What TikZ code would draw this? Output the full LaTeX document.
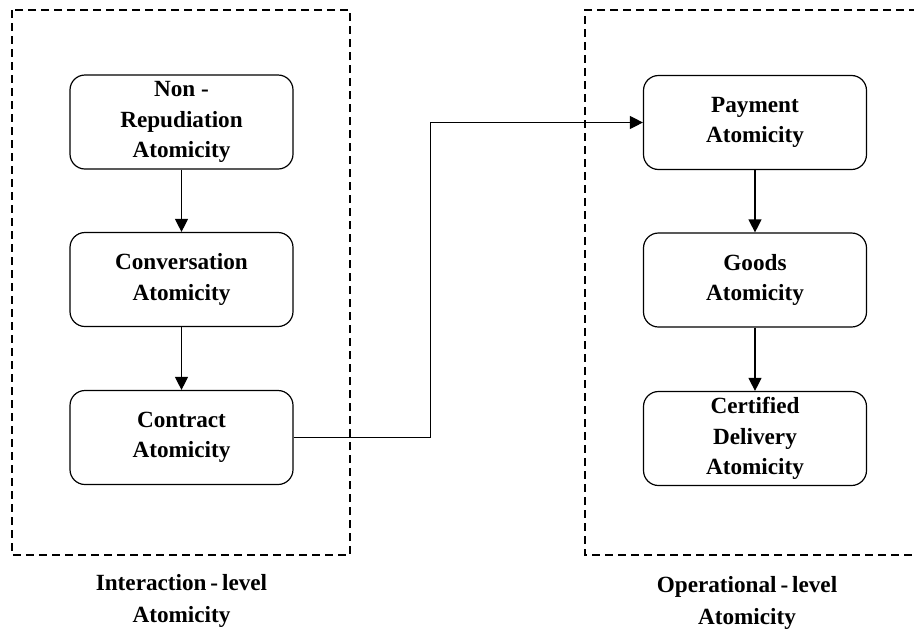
\documentclass[tikz,border=0pt]{standalone}
\usepackage{fontspec}
\setmainfont{Liberation Serif}
\usetikzlibrary{arrows.meta}

\tikzset{
  atom/.style={draw, rounded corners=7.5pt, line width=0.6pt,
    minimum width=111.5pt, minimum height=47pt, inner sep=0pt,
    align=center, font=\fontsize{11.6}{15.2}\selectfont\bfseries},
  level/.style={line width=1.1pt, dash pattern=on 4pt off 2.5pt},
  flow/.style={-{Triangle[length=6.5pt,width=6.5pt]}, line width=0.6pt},
  levelname/.style={align=center, font=\fontsize{11.6}{16}\selectfont\bfseries},
}

\begin{document}
\begin{tikzpicture}[x=0.5pt,y=-0.5pt]
\useasboundingbox (0,0) rectangle (914,632);

\draw[level] (12,10) rectangle (350,555);
\draw[level] (930,10) -- (585,10) -- (585,555) -- (930,555);

\node[atom] (nonrep)    at (181.5,122)   {Non -\\Repudiation\\Atomicity};
\node[atom] (conv)      at (181.5,279.5) {Conversation\\Atomicity};
\node[atom] (contract)  at (181.5,437.5) {Contract\\Atomicity};
\node[atom] (payment)   at (755,122.5)   {Payment\\Atomicity};
\node[atom] (goods)     at (755,280)     {Goods\\Atomicity};
\node[atom] (certified) at (755,438.5)   {Certified\\Delivery\\Atomicity};

\draw[flow] (nonrep) -- (conv);
\draw[flow] (conv) -- (contract);
\draw[flow] (payment) -- (goods);
\draw[flow] (goods) -- (certified);
\draw[flow] (contract.east) -- ++(137,0) |- (payment.west);

\node[levelname] (intlevel) at (181.5,601) {Interaction\,-\,level\\Atomicity};
\node[levelname] (oplevel)  at (747,603)   {Operational\,-\,level\\Atomicity};
\end{tikzpicture}
\end{document}
